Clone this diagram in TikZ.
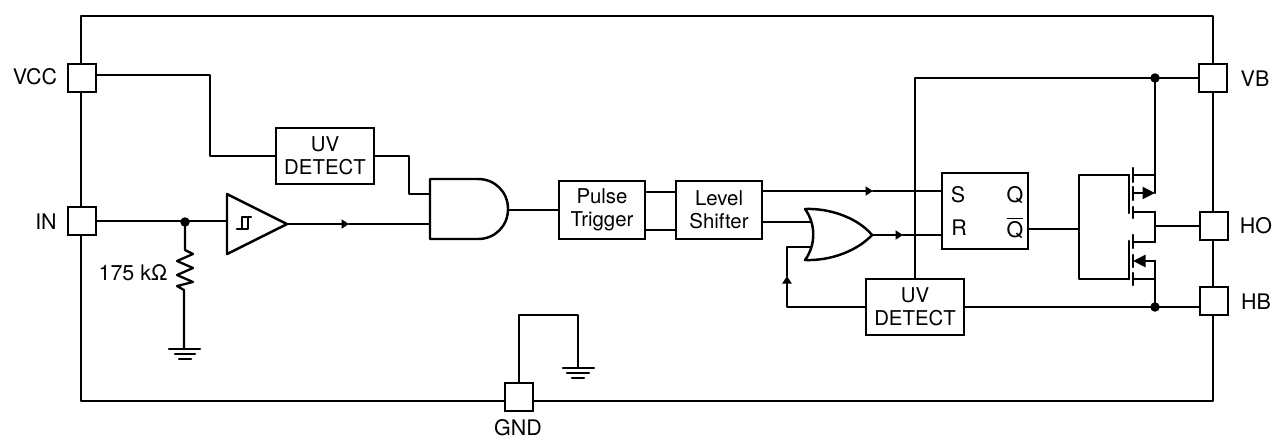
\documentclass[tikz,border=0pt]{standalone}
\usepackage{fontspec}
\setmainfont{TeX Gyre Heros}
\usepackage{xcolor}
\usetikzlibrary{calc,arrows.meta,positioning}
\definecolor{ink}{HTML}{000000}
\tikzset{
  wire/.style={draw=ink, line width=1.3pt, line cap=round, line join=round},
  gate/.style={draw=ink, line width=1.4pt, line cap=round, line join=round},
  pin/.style={draw=ink, fill=white, line width=1.4pt, minimum width=0.56cm, minimum height=0.56cm, inner sep=0pt},
  blk/.style={draw=ink, fill=white, line width=1.4pt, align=center, inner sep=0pt, font=\fontsize{11.6}{13}\selectfont},
  lab/.style={text=ink, inner sep=0pt, font=\fontsize{12.2}{14}\selectfont},
  joint/.style={circle, fill=ink, inner sep=0pt, minimum size=0.19cm},
  flow/.style={wire, -{Triangle[length=1.5mm, width=1.8mm]}},
  fet/.style={wire, -{Triangle[length=2.5mm, width=2.4mm]}},
}
\begin{document}
\begin{tikzpicture}[x=0.02cm, y=-0.02cm]
\useasboundingbox (0,0) rectangle (1273,440);
% package outline
\draw[wire] (81,16) rectangle (1213,401);
% pins
\node[pin] (vcc) at (82,78) {};
\node[pin] (in) at (82,221) {};
\node[pin] (vb) at (1213,78) {};
\node[pin] (ho) at (1214,226) {};
\node[pin] (hb) at (1214,301) {};
\node[pin] (gnd) at (519,397) {};
\node[lab] (vcclab) at (35,77) {VCC};
\node[lab] (inlab) at (46,222) {IN};
\node[lab] (vblab) at (1255,79) {VB};
\node[lab] (holab) at (1256,226) {HO};
\node[lab] (hblab) at (1256,302) {HB};
\node[lab] (gndlab) at (518,428) {GND};
% blocks
\node[blk, minimum width=1.96cm, minimum height=1.12cm] (uvtop) at (325,156) {UV\\DETECT};
\node[blk, minimum width=1.72cm, minimum height=1.16cm] (pulse) at (602,210) {Pulse\\Trigger};
\node[blk, minimum width=1.72cm, minimum height=1.16cm] (shift) at (719,210) {Level\\Shifter};
\node[blk, minimum width=1.96cm, minimum height=1.12cm] (uvbot) at (915,307) {UV\\DETECT};
\node[draw=ink, line width=1.4pt, minimum width=1.72cm, minimum height=1.52cm, inner sep=0pt] (latch) at (985,211) {};
\node[lab] (slab) at (958,195) {S};
\node[lab] (rlab) at (959,228) {R};
\node[lab] (qlab) at (1015,195) {Q};
\node[lab] (qbar) at (1015,228) {$\overline{\mbox{Q}}$};
% gates and buffer
\draw[gate] (430,179) -- (478,179) .. controls (495,179) and (508,192) .. (508,209)
  .. controls (508,226) and (495,239) .. (478,239) -- (430,239) -- cycle;
\coordinate (andout) at (508,210);
\draw[gate] (805,209) .. controls (830,208) and (858,218) .. (872,235)
  .. controls (858,250) and (832,261) .. (805,260) .. controls (816,245) and (816,224) .. (805,209) -- cycle;
\coordinate (orout) at (872,235);
\draw[gate] (227,194) -- (287,224) -- (227,254) -- cycle;
\coordinate (bufout) at (287,224);
\draw[wire] (237,229) -- (248,229) -- (248,217) -- (242,217) -- (242,229) (248,217) -- (251,217);
% left side wiring
\coordinate (vccout) at (96,75);
\draw[wire] (vccout) -- (210,75) |- (uvtop.west);
\draw[wire] (uvtop.east) -- (409,156) -- (409,194) -- (430,194);
\draw[wire] (in.east) -- (227,221);
\node[joint] (injoint) at (185,222) {};
\draw[wire] (injoint.center) -- (185,250) -- (193,254) -- (177,261) -- (193,268) -- (177,275) -- (193,282) -- (177,286) -- (184,290) -- (184,349);
\node[lab] (rlabel) at (133,273) {175 kΩ};
\draw[wire] (169,349) -- (200,349) (175,354) -- (195,354) (179,359) -- (191,359);
\draw[flow] (bufout) -- (349,224);
\draw[wire] (349,224) -- (430,224);
\draw[wire] (andout) -- (pulse.west);
\draw[wire] (645,192) -- (676,192) (645,230) -- (676,230);
% gnd pin
\draw[wire] (gnd.north) -- (519,315) -- (578,315) -- (578,368);
\draw[wire] (563,368) -- (594,368) (567,373) -- (589,373) (572,378) -- (584,378);
% right side wiring
\draw[flow] (762,191) -- (873,191);
\draw[wire] (873,191) -- (942,191);
\draw[wire] (762,222) -- (811,222);
\draw[flow] (orout) -- (903,235);
\draw[wire] (903,235) -- (942,235);
\draw[flow] (uvbot.west) -- (787,307) -- (787,276);
\draw[wire] (787,276) -- (787,247) -- (811,247);
\draw[wire] (uvbot.north) -- (915,78) -- (vb.west);
\coordinate (hbin) at (1200,307);
\draw[wire] (uvbot.east) -- (hbin);
\node[joint] (vbjoint) at (1155,78) {};
\node[joint] (hbjoint) at (1155,307) {};
% output stage
\draw[wire] (1028,229) -- (1079,229);
\draw[wire] (1129,175) -- (1079,175) -- (1079,279) -- (1129,279);
\draw[wire] (1129,175) -- (1129,213) (1129,241) -- (1129,279);
\draw[wire] (1133,168) -- (1133,182) (1133,187) -- (1133,200) (1133,207) -- (1133,218);
\draw[wire] (1133,235) -- (1133,248) (1133,255) -- (1133,267) (1133,273) -- (1133,285);
\draw[wire] (1133,175) -- (1155,175) (1133,212) -- (1155,212) (1133,242) -- (1155,242) (1133,279) -- (1155,279);
\draw[wire] (vbjoint.center) -- (1155,193);
\draw[wire] (1155,212) -- (1155,242);
\draw[wire] (1155,261) -- (hbjoint.center);
\draw[wire] (1155,226) -- (ho.west);
\draw[fet] (1133,193) -- (1155,193);
\draw[fet] (1155,261) -- (1133,261);
\end{tikzpicture}
\end{document}
